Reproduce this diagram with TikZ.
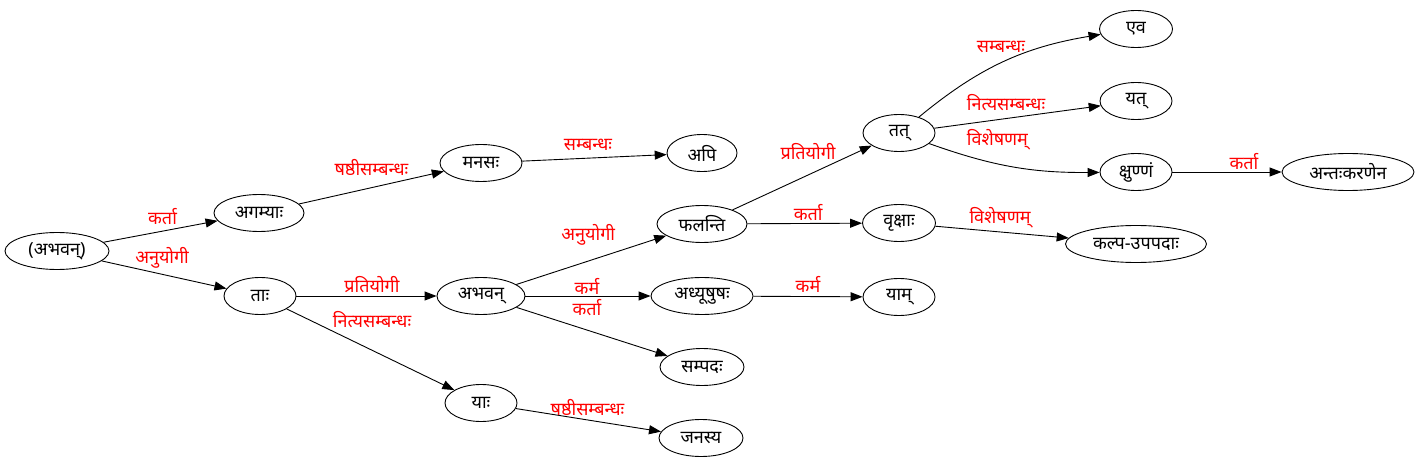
\documentclass[tikz,border=0pt]{standalone}
\usepackage{fontspec}
\usetikzlibrary{shapes.geometric,arrows.meta}
\newfontfamily\deva[Script=Devanagari]{Noto Sans}
\newcommand{\edgewidth}{0.9pt}

\begin{document}
\begin{tikzpicture}[x=1pt, y=1pt,
    word/.style={ellipse, draw, line width=\edgewidth, inner sep=0pt,
      minimum height=37pt, font=\deva\fontsize{18}{20}\selectfont},
    rel/.style={line width=\edgewidth, -{Triangle[length=12pt,width=9pt]}},
    lbl/.style={midway, text=red, inner sep=0pt, font=\deva\fontsize{18}{20}\selectfont}]
  \useasboundingbox (0,0) rectangle (1426,469);
  % words
  \node[word, minimum width=104pt] (root)     at (57,218)   {(अभवन्)};
  \node[word, minimum width=90pt]  (agamyah)  at (259,256)  {अगम्याः};
  \node[word, minimum width=72pt]  (taah)     at (260,173)  {ताः};
  \node[word, minimum width=82pt]  (manasah)  at (481,306)  {मनसः};
  \node[word, minimum width=70pt]  (api)      at (702,316)  {अपि};
  \node[word, minimum width=88pt]  (abhavan)  at (481,173)  {अभवन्};
  \node[word, minimum width=72pt]  (yaah)     at (481,66)   {याः};
  \node[word, minimum width=84pt]  (janasya)  at (701,31)   {जनस्य};
  \node[word, minimum width=90pt]  (phalanti) at (702,245)  {फलन्ति};
  \node[word, minimum width=102pt] (adhyush)  at (702,173)  {अध्यूषुषः};
  \node[word, minimum width=84pt]  (sampadah) at (702,102)  {सम्पदः};
  \node[word, minimum width=73pt]  (vrkshah)  at (899,246)  {वृक्षाः};
  \node[word, minimum width=72pt]  (yaam)     at (899,172)  {याम्};
  \node[word, minimum width=72pt]  (tat)      at (899,336)  {तत्};
  \node[word, minimum width=73pt]  (eva)      at (1136,440) {एव};
  \node[word, minimum width=72pt]  (yat)      at (1136,368) {यत्};
  \node[word, minimum width=72pt]  (kshunnam) at (1136,297) {क्षुण्णं};
  \node[word, minimum width=132pt] (antah)    at (1348,297) {अन्तःकरणेन};
  \node[word, minimum width=141pt] (kalpa)    at (1136,225) {कल्प-उपपदाः};
  % relations
  \draw[rel] (root) -- node[lbl, xshift=2, yshift=14.5] {कर्ता} (agamyah);
  \draw[rel] (root) -- node[lbl, xshift=-2, yshift=16.8] {अनुयोगी} (taah);
  \draw[rel] (agamyah) -- node[lbl, xshift=0, yshift=19.7] {षष्ठीसम्बन्धः} (manasah);
  \draw[rel] (manasah) -- node[lbl, xshift=-6.5, yshift=12.9] {सम्बन्धः} (api);
  \draw[rel] (taah) -- node[lbl, xshift=5.5, yshift=11] {प्रतियोगी} (abhavan);
  \draw[rel] (taah) -- node[lbl, xshift=1.5, yshift=29.5] {नित्यसम्बन्धः} (yaah);
  \draw[rel] (yaah) -- node[lbl, xshift=-1, yshift=13] {षष्ठीसम्बन्धः} (janasya);
  \draw[rel] (abhavan) -- node[lbl, xshift=-3, yshift=25] {अनुयोगी} (phalanti);
  \draw[rel] (abhavan) -- node[lbl, xshift=-1, yshift=10] {कर्म} (adhyush);
  \draw[rel] (abhavan) -- node[lbl, xshift=-5, yshift=23.7] {कर्ता} (sampadah);
  \draw[rel] (adhyush) -- node[lbl, xshift=0, yshift=12] {कर्म} (yaam);
  \draw[rel] (phalanti) -- node[lbl, xshift=3.5, yshift=10.5] {कर्ता} (vrkshah);
  \draw[rel] (phalanti) -- node[lbl, xshift=6, yshift=25.8] {प्रतियोगी} (tat);
  \draw[rel] (tat) to[bend left=15] node[lbl, xshift=-2.5, yshift=15.5] {सम्बन्धः} (eva);
  \draw[rel] (tat) -- node[lbl, xshift=-11.5, yshift=14] {नित्यसम्बन्धः} (yat);
  \draw[rel] (tat) to[bend right=10] node[lbl, xshift=-15.5, yshift=26.5] {विशेषणम्} (kshunnam);
  \draw[rel] (kshunnam) -- node[lbl, xshift=17, yshift=10] {कर्ता} (antah);
  \draw[rel] (vrkshah) -- node[lbl, xshift=-2, yshift=14] {विशेषणम्} (kalpa);
\end{tikzpicture}
\end{document}
